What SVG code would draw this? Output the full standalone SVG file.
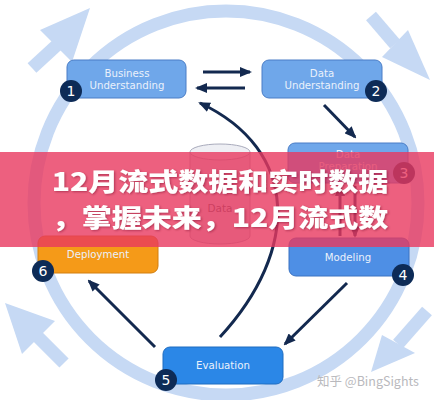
<svg xmlns="http://www.w3.org/2000/svg" width="434" height="400" viewBox="0 0 434 400">
  <defs>
    <marker id="ah" viewBox="0 0 12 10" refX="10" refY="5" markerWidth="12" markerHeight="10" markerUnits="userSpaceOnUse" orient="auto">
      <path d="M0,0 L12,5 L0,10 z" fill="#13294f"/>
    </marker>
    <filter id="sh" x="-10%" y="-20%" width="120%" height="140%">
      <feDropShadow dx="1" dy="1" stdDeviation="1" flood-color="#6a1020" flood-opacity="0.45"/>
    </filter>
  </defs>
  <style>
    .ring { fill: none; stroke: #c6d9f4; stroke-width: 13; }
    .big { fill: #c6d9f4; }
    .bigshaft { stroke: #c6d9f4; stroke-width: 13; stroke-linecap: butt; }
    .conn { fill: none; stroke: #13294f; stroke-width: 3; marker-end: url(#ah); }
    .box { stroke-width: 1; }
    .lbl { font-family: "DejaVu Sans", Verdana, sans-serif; font-size: 10.2px; fill: #eaf1fb; text-anchor: middle; }
    .badge { fill: #0d2b57; }
    .num { font-family: "DejaVu Sans", sans-serif; font-size: 14px; fill: #ffffff; text-anchor: middle; }
    .title { font-family: "Noto Sans CJK SC", "Noto Sans", sans-serif; font-weight: 900; font-size: 25px; fill: #ffffff; text-anchor: middle; }
    .wm { font-family: "Noto Sans CJK SC", "DejaVu Sans", sans-serif; font-size: 12.5px; fill: #b9b9bd; }
  </style>
  <rect x="0" y="0" width="434" height="400" fill="#ffffff"/>

  <g id="cycle">
    <circle class="ring" cx="226" cy="203" r="192"/>
    <line class="bigshaft" x1="32" y1="68" x2="57" y2="45"/>
    <polygon class="big" points="90,8 40,30 72,62"/>
    <line class="bigshaft" x1="371" y1="16" x2="395" y2="44"/>
    <polygon class="big" points="430,80 408,30 382,57"/>
    <line class="bigshaft" x1="427" y1="311" x2="398" y2="344"/>
    <polygon class="big" points="371,372 382,335 415,353"/>
    <line class="bigshaft" x1="64" y1="363" x2="38" y2="337"/>
    <polygon class="big" points="5,303 55,321 22,354"/>
  </g>

  <g id="connectors">
    <line class="conn" x1="203" y1="72" x2="250" y2="72"/>
    <line class="conn" x1="245" y1="88" x2="197" y2="88"/>
    <line class="conn" x1="324" y1="105" x2="355" y2="137"/>
    <line class="conn" x1="340" y1="236" x2="340" y2="186"/>
    <line class="conn" x1="355" y1="186" x2="355" y2="236"/>
    <line class="conn" x1="347" y1="283" x2="285" y2="344"/>
    <line class="conn" x1="155" y1="347" x2="89" y2="281"/>
    <path class="conn" d="M220,337 C300,250 300,150 200,103"/>
  </g>

  <g id="data-store">
    <path d="M190,152 L190,236 A30,8 0 0 0 250,236 L250,152" fill="#e1e2ea" stroke="#a9abbc" stroke-width="1"/>
    <ellipse cx="220" cy="152" rx="30" ry="8" fill="#eeeff4" stroke="#a9abbc" stroke-width="1"/>
    <text x="220" y="212" font-family="DejaVu Sans, sans-serif" font-size="10.5px" fill="#5a5a66" text-anchor="middle">Data</text>
  </g>

  <g id="node1">
    <rect class="box" x="67" y="60" width="119" height="38" rx="7" fill="#6fa7ea" stroke="#4a7dc6"/>
    <text class="lbl" x="127" y="77">Business</text>
    <text class="lbl" x="127" y="89">Understanding</text>
    <circle class="badge" cx="71" cy="91" r="11"/>
    <text class="num" x="71" y="96">1</text>
  </g>
  <g id="node2">
    <rect class="box" x="262" y="60" width="120" height="38" rx="7" fill="#6fa7ea" stroke="#4a7dc6"/>
    <text class="lbl" x="322" y="77">Data</text>
    <text class="lbl" x="322" y="89">Understanding</text>
    <circle class="badge" cx="376" cy="91" r="11"/>
    <text class="num" x="376" y="96">2</text>
  </g>
  <g id="node3">
    <rect class="box" x="288" y="143" width="120" height="40" rx="7" fill="#6fa7ea" stroke="#4a7dc6"/>
    <text class="lbl" x="348" y="158">Data</text>
    <text class="lbl" x="348" y="170">Preparation</text>
    <circle class="badge" cx="404" cy="173" r="11"/>
    <text class="num" x="404" y="178">3</text>
  </g>
  <g id="node4">
    <rect class="box" x="289" y="238" width="120" height="38" rx="7" fill="#4e8fe5" stroke="#3a72c2"/>
    <text class="lbl" x="348" y="261">Modeling</text>
    <circle class="badge" cx="403" cy="275" r="11"/>
    <text class="num" x="403" y="280">4</text>
  </g>
  <g id="node5">
    <rect class="box" x="163" y="347" width="120" height="37" rx="7" fill="#2b87e7" stroke="#1f6cc0"/>
    <text class="lbl" x="223" y="369">Evaluation</text>
    <circle class="badge" cx="166" cy="380" r="11"/>
    <text class="num" x="166" y="385">5</text>
  </g>
  <g id="node6">
    <rect class="box" x="38" y="236" width="120" height="37" rx="7" fill="#f59a18" stroke="#d27e0e"/>
    <text class="lbl" x="98" y="258">Deployment</text>
    <circle class="badge" cx="43" cy="271" r="11"/>
    <text class="num" x="43" y="276">6</text>
  </g>

  <g id="banner">
    <rect x="0" y="152" width="434" height="95" fill="#e8385f" fill-opacity="0.8"/>
    <g transform="translate(220,0) scale(1.2,1)" filter="url(#sh)">
      <text class="title" x="0" y="191">12月流式数据和实时数据</text>
      <text class="title" x="0" y="227">，掌握未来，12月流式数</text>
    </g>
  </g>

  <text class="wm" x="317" y="386">知乎 @BingSights</text>
</svg>
